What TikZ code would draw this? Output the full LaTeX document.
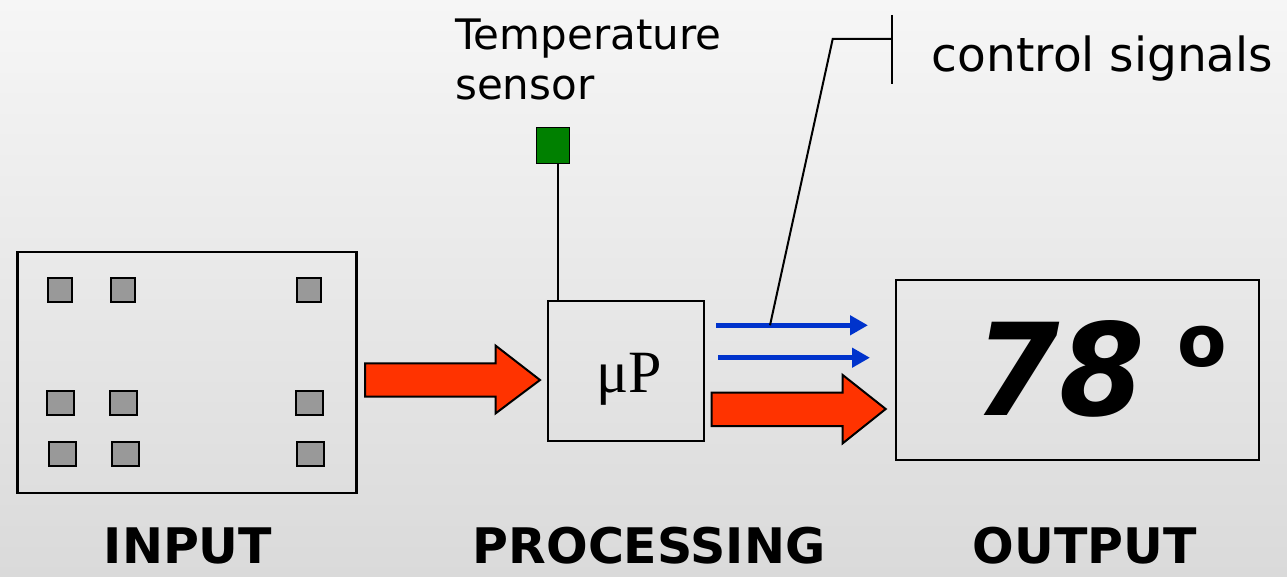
\documentclass[tikz,border=0pt]{standalone}
\usepackage{fontspec}
\setmainfont{DejaVu Sans}
\newfontfamily\serifP{Liberation Serif}
\usetikzlibrary{arrows.meta}
\definecolor{bgtop}{HTML}{F6F6F6}
\definecolor{bgbot}{HTML}{DADADA}
\definecolor{padgray}{HTML}{999999}
\definecolor{arrowred}{HTML}{FF3300}
\definecolor{sigblue}{HTML}{0033CC}
\definecolor{sensgreen}{HTML}{008000}
\begin{document}
\begin{tikzpicture}[x=1pt,y=-1pt,
  frame/.style={draw=black, line width=2.2pt, inner sep=0pt, fill=none},
  pad/.style={draw=black, line width=2pt, fill=padgray, inner sep=0pt, minimum height=24pt},
  wire/.style={draw=black, line width=2pt},
  bigarrow/.style={draw=black, line width=2pt, fill=arrowred, line join=miter},
  sigarrow/.style={draw=sigblue, line width=5pt, -{Triangle[length=18pt,width=19pt]}},
  caption/.style={font=\fontsize{49}{49}\selectfont\bfseries, inner sep=0pt, anchor=base},
  plain/.style={inner sep=0pt}
]
\useasboundingbox (0,0) rectangle (1287,577);
\shade[top color=bgtop, bottom color=bgbot] (0,0) rectangle (1287,577);

% input board
\node[frame, minimum width=339pt, minimum height=241pt] (inbox) at (187,372.8) {};
\node[pad, minimum width=24pt] (p11) at (60.2,290.3) {};
\node[pad, minimum width=24pt] (p12) at (122.8,290.3) {};
\node[pad, minimum width=24pt] (p13) at (308.5,290.3) {};
\node[pad, minimum width=27pt] (p21) at (60.8,403.2) {};
\node[pad, minimum width=27pt] (p22) at (123.5,403.2) {};
\node[pad, minimum width=27pt] (p23) at (309,403.2) {};
\node[pad, minimum width=27pt] (p31) at (62.2,453.7) {};
\node[pad, minimum width=27pt] (p32) at (125,453.7) {};
\node[pad, minimum width=27pt] (p33) at (310.5,453.7) {};

% big red arrows
\draw[bigarrow] (365,363.3) -- (495.7,363.3) -- (495.7,345.7) -- (540,380) -- (495.7,413.3) -- (495.7,396.7) -- (365,396.7) -- cycle;
\draw[bigarrow] (711.7,392.7) -- (842.7,392.7) -- (842.7,375) -- (885.7,409) -- (842.7,443.3) -- (842.7,426) -- (711.7,426) -- cycle;

% processor
\node[frame, minimum width=156pt, minimum height=140pt] (up) at (626,371.3) {};
\node[plain, anchor=base, font=\serifP\fontsize{60}{60}\selectfont] (uptext) at (629,392) {μP};

% sensor
\node[draw=black, line width=1.8pt, fill=sensgreen, inner sep=0pt, minimum width=33pt, minimum height=36pt] (sensor) at (553,145.5) {};
\draw[wire] ([xshift=4.5pt]sensor.south) -- ([xshift=4.5pt]sensor.south |- up.north);
\node[plain, anchor=base west, align=left, font=\fontsize{42}{50}\selectfont] (senslabel) at (455,100) {Temperature\\sensor};

% control signals
\coordinate (s1a) at (716,325.3);
\coordinate (s1b) at (868,325.3);
\coordinate (s2a) at (718,357.7);
\coordinate (s2b) at (870,357.7);
\draw[sigarrow] (s1a) -- (s1b);
\draw[sigarrow] (s2a) -- (s2b);
\coordinate (tap) at (770,325.3);
\coordinate (bend) at (832.7,39);
\coordinate (bartop) at (892.3,15);
\coordinate (barbot) at (892.3,84);
\draw[wire, line join=miter] (tap) -- (bend) -- (bend -| bartop);
\draw[wire] (bartop) -- (barbot);
\node[plain, anchor=base west, font=\fontsize{47}{47}\selectfont] (ctl) at (931.7,71.7) {control signals};

% output display
\node[plain, anchor=base west, font=\fontsize{128}{128}\selectfont\bfseries\itshape] (temp) at (974,415) {\scalebox{0.96}[1]{78}\hspace{32pt}\raisebox{49pt}{\upshape\fontsize{72}{72}\selectfont o}};
\node[frame, minimum width=363pt, minimum height=180pt] (outbox) at (1077.5,370) {};

% captions
\node[caption] (lin) at (188,563.3) {INPUT};
\node[caption] (lproc) at (649,563.3) {PROCESSING};
\node[caption] (lout) at (1084.7,563.3) {OUTPUT};
\end{tikzpicture}
\end{document}
